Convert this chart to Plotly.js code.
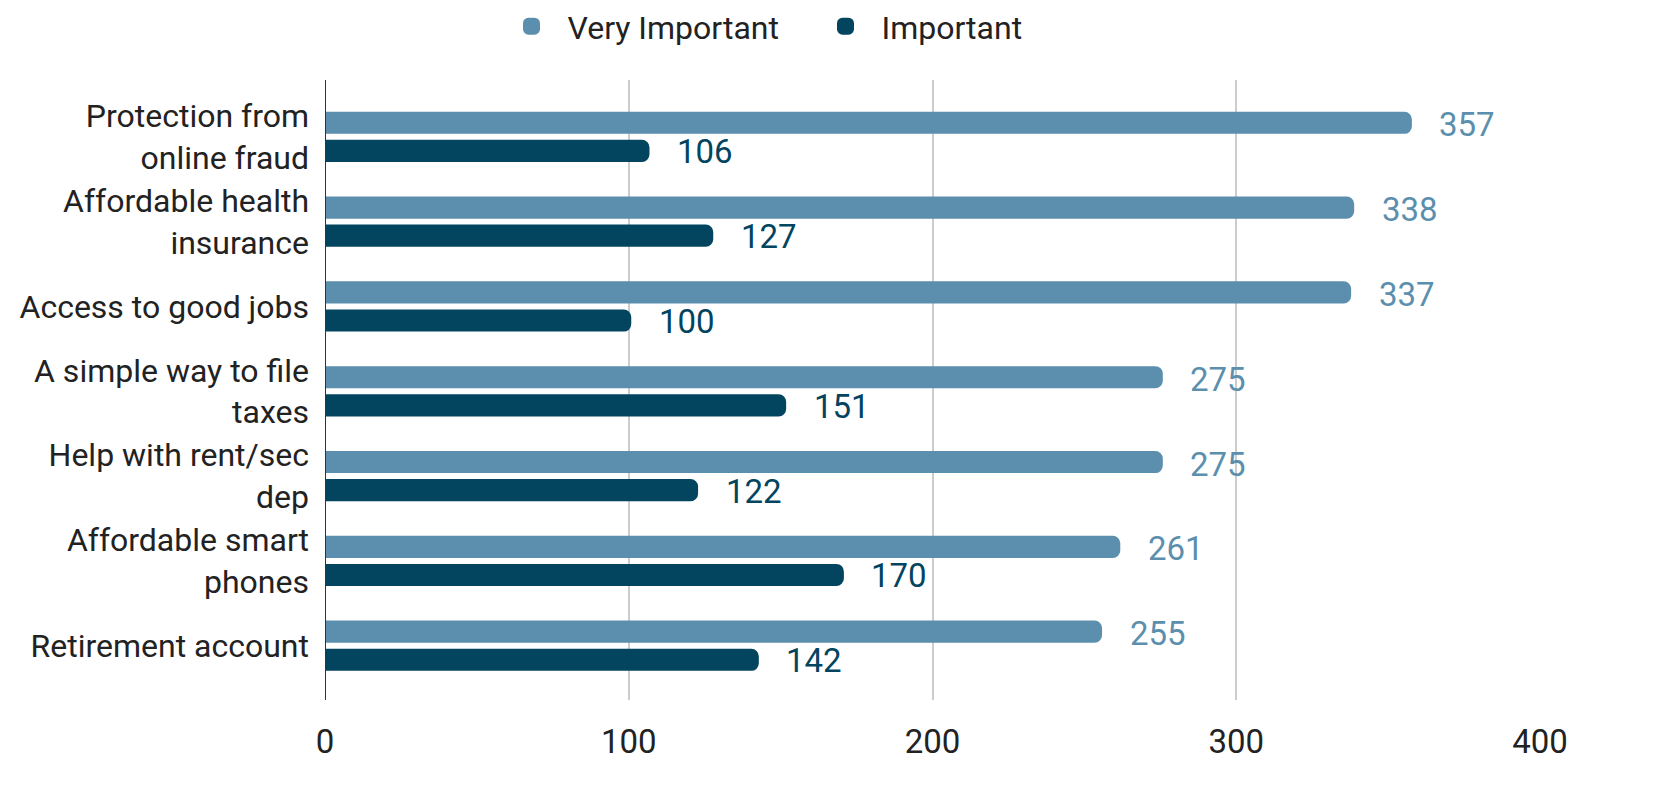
<!DOCTYPE html>
<html>
<head>
<meta charset="utf-8">
<script src="https://cdn.plot.ly/plotly-3.0.1.min.js"></script>
<style>html,body{margin:0;padding:0;background:#fff;}#chart{width:1670px;height:799px;}</style>
</head>
<body>
<div id="chart"></div>
<script>
const categories = [
  "Protection from<br>online fraud",
  "Affordable health<br>insurance",
  "Access to good jobs",
  "A simple way to file<br>taxes",
  "Help with rent/sec<br>dep",
  "Affordable smart<br>phones",
  "Retirement account"
];
const veryImportant = [357, 338, 337, 275, 275, 261, 255];
const important = [106, 127, 100, 151, 122, 170, 142];
const seriesNames = ["Very Important", "Important"];
const colors = ["#5b8fad", "#03445f"];
const xTicks = [0, 100, 200, 300, 400];

const FONT = "Roboto, 'Noto Sans', sans-serif";
const FS = 32;

const traces = [
  {type: "bar", orientation: "h", name: seriesNames[0], x: veryImportant, y: categories,
   marker: {color: colors[0], cornerradius: 5, line: {color: colors[0], width: 5}}, hoverinfo: "x"},
  {type: "bar", orientation: "h", name: seriesNames[1], x: important, y: categories,
   marker: {color: colors[1], cornerradius: 5, line: {color: colors[1], width: 5}}, hoverinfo: "x"}
];

const annotations = [];
[veryImportant, important].forEach((arr, s) => {
  arr.forEach((v, i) => {
    annotations.push({
      x: v, y: categories[i], xref: "x", yref: "y",
      text: String(v), showarrow: false, xanchor: "left", yanchor: "middle",
      xshift: 28, yshift: s === 0 ? 12 : -15,
      font: {family: FONT, size: 33, color: colors[s]}
    });
  });
});

const layout = {
  width: 1670, height: 799,
  margin: {l: 325, r: 130, t: 80, b: 99},
  paper_bgcolor: "#fff", plot_bgcolor: "#fff",
  font: {family: FONT, size: FS, color: "#222"},
  barmode: "group", bargap: 0.337, bargroupgap: 0.39,
  showlegend: true,
  legend: {orientation: "h", xref: "container", yref: "container",
           x: 0.2967, xanchor: "left", y: 0.967, yanchor: "middle",
           font: {family: FONT, size: 32, color: "#222"},
           traceorder: "normal", itemsizing: "trace", itemwidth: 62,
           entrywidth: 237, entrywidthmode: "pixels"},
  xaxis: {range: [0, 400], tickvals: xTicks, ticktext: xTicks.map(String),
          showgrid: true, gridcolor: "#cccccc", gridwidth: 2,
          zeroline: false, showline: false, ticks: "", ticklabelstandoff: 19,
          tickfont: {family: FONT, size: 33, color: "#222"}, fixedrange: true},
  yaxis: {type: "category", categoryorder: "array", categoryarray: categories,
          range: [6.64, -0.67], showgrid: false, zeroline: false, showline: false,
          ticks: "", ticklabelstandoff: 15,
          tickfont: {family: FONT, size: FS, color: "#222"}, fixedrange: true},
  shapes: [{type: "line", xref: "x", yref: "paper", x0: 0, x1: 0, y0: 0, y1: 1,
            line: {color: "#333333", width: 2}, layer: "above"}],
  annotations: annotations
};

Plotly.newPlot("chart", traces, layout, {displayModeBar: false, staticPlot: true});
</script>
</body>
</html>
